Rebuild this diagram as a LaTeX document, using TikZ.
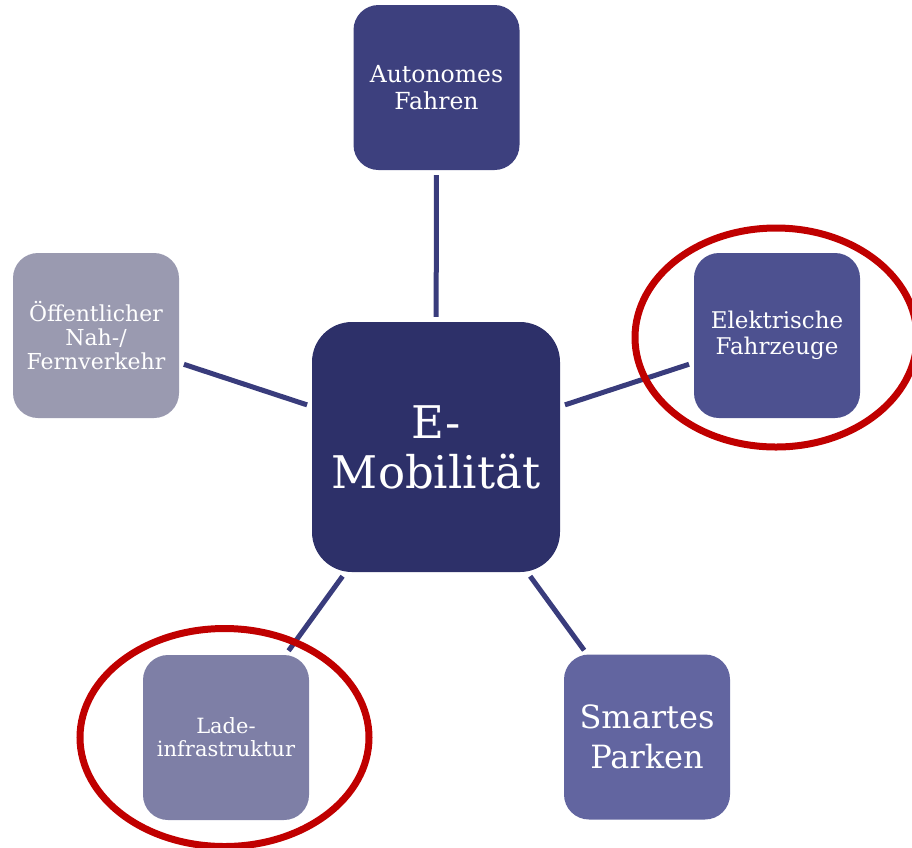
\documentclass[tikz,border=0pt]{standalone}
\usepackage{fontspec}
\setmainfont{DejaVu Serif}
\usepackage{tikz}
\definecolor{mobC}{HTML}{2D3069}
\definecolor{autoC}{HTML}{3D407E}
\definecolor{elekC}{HTML}{4D5190}
\definecolor{parkC}{HTML}{6265A0}
\definecolor{ladeC}{HTML}{7E7FA6}
\definecolor{oeffC}{HTML}{9A9AB0}
\definecolor{linkC}{HTML}{393C7C}
\definecolor{ringC}{HTML}{C00000}
\newcommand{\LW}{5pt}
\newcommand{\RW}{7pt}
\newcommand{\FS}[2]{\fontsize{#1}{#2}\selectfont}
\tikzset{
    tile/.style={fill=#1,text=white,rounded corners=25pt,minimum width=166pt,minimum height=165pt,inner sep=0pt,align=center},
    link/.style={draw=linkC,line width=\LW,shorten >=5pt,shorten <=5pt},
    ring/.style={draw=ringC,line width=\RW}
}

\begin{document}
\begin{tikzpicture}[x=1pt,y=-1pt]
    \useasboundingbox (0,0) rectangle (912,847);

    \node[tile=mobC,rounded corners=40pt,minimum width=248pt,minimum height=250pt,font=\FS{45}{50}] (mob) at (436,447) {E-\\Mobilität};
    \node[tile=autoC,font=\FS{23.5}{27}] (auto) at (436.5,87.5) {Autonomes\\Fahren};
    \node[tile=oeffC,font=\FS{22}{24}] (oeff) at (96,335.5) {Öffentlicher\\Nah-/\\Fernverkehr};
    \node[tile=elekC,font=\FS{23}{26}] (elek) at (777,335.5) {Elektrische\\Fahrzeuge};
    \node[tile=ladeC,font=\FS{21}{23}] (lade) at (226,737.5) {Lade-\\infrastruktur};
    \node[tile=parkC,font=\FS{32}{40}] (park) at (647,737) {Smartes\\Parken};

    \draw[link] (auto) -- (mob);
    \draw[link] (oeff) -- (mob);
    \draw[link] (mob) -- (elek);
    \draw[link] (mob) -- (lade);
    \draw[link] (mob) -- (park);

    \draw[ring] (776,337.5) ellipse [x radius=141pt,y radius=109.5pt];
    \draw[ring] (224.5,737.5) ellipse [x radius=144.5pt,y radius=109pt];
\end{tikzpicture}
\end{document}
